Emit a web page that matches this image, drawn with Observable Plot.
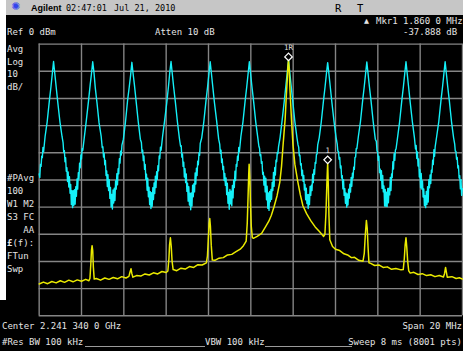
<!DOCTYPE html>
<html><head><meta charset="utf-8">
<script src="https://cdn.jsdelivr.net/npm/d3@7"></script>
<script src="https://cdn.jsdelivr.net/npm/@observablehq/plot@0.6"></script>
<style>
html,body{margin:0;padding:0;background:#fff;}
#screen{position:relative;width:463px;height:351px;background:#000;overflow:hidden;font-family:'DejaVu Sans Mono',monospace;font-size:9px;color:#e4e4e4;}
.t{position:absolute;white-space:pre;line-height:12px;}
.h{color:#000;font-size:8.5px;}
#strip{position:absolute;left:0;top:0;width:6px;height:300px;background:#fff;}
#bar{position:absolute;left:6px;top:0;right:0;height:15px;background:#c6c6c6;}
#chart{position:absolute;left:0;top:0;}
.ul{position:absolute;height:1px;background:#9a9a9a;}
</style></head>
<body>
<div id="screen">
  <div id="strip"></div>
  <div id="bar"></div>
  <div id="chart"></div>
  <div class="t" style="left:11px;top:1px;color:#3344ee;font-family:'DejaVu Sans';font-size:11px">✺</div>
  <div class="t h" style="left:31px;top:2px;font-family:'Liberation Sans',Arial,sans-serif;font-weight:bold;font-size:9px">Agilent</div>
  <div class="t h" style="left:66px;top:2px">02:47:01</div>
  <div class="t h" style="left:114px;top:2px">Jul 21, 2010</div>
  <div class="t h" style="left:335px;top:2px;font-size:10.5px">R</div>
  <div class="t h" style="left:357px;top:2px;font-size:10.5px">T</div>

  <div class="t" style="left:364px;top:15px;font-family:'DejaVu Sans';font-size:6.5px">▲</div>
  <div class="t" style="left:376px;top:15px">Mkr1</div>
  <div class="t" style="left:403px;top:15px">1.860 0 MHz</div>

  <div class="t" style="left:7px;top:26px">Ref 0 dBm</div>
  <div class="t" style="left:155px;top:26px">Atten 10 dB</div>
  <div class="t" style="left:403px;top:26px">-37.888 dB</div>

  <div class="t" style="left:7px;top:43px">Avg</div>
  <div class="t" style="left:7px;top:55.5px">Log</div>
  <div class="t" style="left:7px;top:68px">10</div>
  <div class="t" style="left:7px;top:81px">dB/</div>

  <div class="t" style="left:7px;top:172px">#PAvg</div>
  <div class="t" style="left:7px;top:185px">100</div>
  <div class="t" style="left:7px;top:198px">W1 M2</div>
  <div class="t" style="left:7px;top:211px">S3 FC</div>
  <div class="t" style="left:7px;top:223.5px">   AA</div>
  <div class="t" style="left:7px;top:236.5px;font-weight:bold">£<span style="font-weight:normal">(f):</span></div>
  <div class="t" style="left:7px;top:249.5px">FTun</div>
  <div class="t" style="left:7px;top:262.5px">Swp</div>

  <div class="t" style="left:2px;top:320px">Center 2.241 340 0 GHz</div>
  <div class="t" style="right:1px;top:320px">Span 20 MHz</div>
  <div class="t" style="left:2px;top:335.5px">#Res BW 100 kHz</div>
  <div class="t" style="left:205px;top:335.5px">VBW 100 kHz</div>
  <div class="t" style="right:1px;top:335.5px">Sweep 8 ms (8001 pts)</div>
  <div class="ul" style="left:85px;top:346px;width:120px"></div>
  <div class="ul" style="left:265px;top:346px;width:87px"></div>
</div>
<script>
// Frequency offset from centre (MHz), 10 divisions of 2 MHz; level in dBm, 10 dB/div from Ref 0 dBm
const xTicks = [-10, -8, -6, -4, -2, 0, 2, 4, 6, 8, 10];
const yTicks = [0, -10, -20, -30, -40, -50, -60, -70, -80, -90, -100];

// ---- Cyan trace (averaged comb) ----
const combPeakFreqs = [-9.32, -7.47, -5.62, -3.77, -1.92, -0.07, 1.78, 3.63, 5.48, 7.33, 9.18];
// offsets (MHz) around each comb peak, and the levels read at them
const lobeOffsets = [-0.4, -0.3, -0.2, -0.12, -0.06, 0, 0.06, 0.12, 0.2, 0.3, 0.4];
const lobeLevels = [
  [-34, -28.5, -21, -15.5, -11, -6.4, -11, -15.5, -21.5, -28.5, -34],
  [-34.5, -28, -21, -15, -11, -6.5, -10.5, -16, -21.5, -29, -34],
  [-35, -28.5, -20.5, -15.5, -11.5, -6.7, -11, -15, -21, -28.5, -35],
  [-34, -28, -21.5, -15.5, -10.5, -6.4, -11, -15.5, -21, -28.5, -35],
  [-34.5, -28.5, -21, -15.5, -11, -6.5, -11, -15.5, -21.5, -28, -35],
  [-34, -28.5, -21, -15.5, -11, -6.5, -11, -15.5, -21, -28.5, -34.5],
  [-34.5, -28, -21, -15, -10.5, -5.8, -10.5, -15, -21, -28.5, -34.5],
  [-34.5, -28.5, -21, -15.5, -11, -6.8, -11, -15.5, -21.5, -28.5, -34.5],
  [-34, -28.5, -21, -15.5, -11, -6.6, -11, -15.5, -21, -28.5, -35],
  [-34.5, -28.5, -21, -15.5, -11, -6.5, -11, -15.5, -21.5, -28.5, -34.5],
  [-34, -28.5, -21, -15.5, -11, -6.5, -11, -15.5, -21, -28.5, -34.5]
];
// noisy skirts/trough after each peak: offsets from that peak and levels
const skirtOffsets = [0.45,0.48,0.51,0.54,0.57,0.60,0.63,0.66,0.69,0.72,0.75,0.78,0.81,0.84,0.87,0.90,0.93,0.96,0.99,1.02,1.05,1.08,1.11,1.14,1.17,1.20,1.23,1.26,1.29,1.32,1.35,1.38];
const skirtLevels = [
  [-36.3,-39.8,-39.2,-43.3,-41.8,-46.8,-45.5,-50.6,-47.1,-52.6,-48.8,-54.9,-51.7,-59.1,-54.0,-60.2,-54.0,-59.3,-53.6,-58.9,-52.5,-56.0,-49.6,-53.4,-47.3,-49.6,-43.8,-45.5,-40.8,-42.3,-38.5,-39.1],
  [-38.1,-37.8,-41.6,-40.2,-44.4,-42.8,-48.4,-46.7,-52.4,-48.1,-53.9,-49.9,-56.8,-52.8,-59.9,-55.3,-60.7,-53.7,-58.5,-53.0,-57.6,-50.4,-53.4,-47.7,-51.8,-45.9,-47.7,-42.2,-43.8,-39.4,-40.8,-37.2],
  [-36.2,-39.9,-39.0,-42.9,-41.2,-46.1,-44.3,-49.8,-47.9,-53.8,-49.4,-56.2,-52.7,-59.1,-54.3,-60.5,-54.7,-59.7,-52.9,-57.2,-51.1,-55.0,-48.6,-52.8,-47.0,-49.8,-44.8,-46.6,-41.2,-42.1,-37.9,-39.0],
  [-37.6,-37.4,-41.6,-40.4,-45.0,-43.5,-48.9,-45.9,-51.0,-47.8,-54.2,-51.2,-57.8,-52.5,-59.2,-54.9,-61.0,-54.8,-59.6,-51.9,-56.2,-51.4,-54.4,-47.4,-51.5,-45.7,-48.4,-43.1,-44.4,-40.1,-40.9,-36.6],
  [-36.8,-40.2,-39.0,-43.6,-42.3,-46.2,-45.0,-50.2,-47.6,-52.0,-49.3,-55.4,-51.2,-58.6,-54.6,-60.8,-53.5,-58.8,-54.1,-59.5,-52.0,-56.6,-50.1,-52.8,-46.8,-50.2,-44.3,-45.0,-41.3,-42.8,-38.0,-39.6],
  [-37.6,-38.3,-41.1,-40.7,-43.9,-43.3,-47.9,-47.2,-51.9,-48.6,-54.4,-49.4,-57.3,-52.3,-60.4,-54.8,-61.2,-54.2,-58.0,-53.5,-57.1,-50.9,-53.9,-47.2,-52.3,-45.4,-48.2,-42.7,-43.3,-39.9,-40.3,-37.7],
  [-37.1,-37.9,-41.1,-40.9,-44.5,-44.0,-48.4,-46.4,-50.5,-48.3,-53.7,-51.7,-57.3,-53.0,-58.7,-55.4,-60.5,-55.3,-59.1,-52.4,-55.7,-51.9,-53.9,-47.9,-51.0,-46.2,-47.9,-43.6,-43.9,-40.6,-40.4,-37.1],
  [-36.7,-39.4,-39.5,-42.4,-41.7,-45.6,-44.8,-49.3,-48.4,-53.3,-49.9,-55.7,-53.2,-58.6,-54.8,-60.0,-55.2,-59.2,-53.4,-56.7,-51.6,-54.5,-49.1,-52.3,-47.5,-49.3,-45.3,-46.1,-41.7,-41.6,-38.4,-38.5],
  [-35.8,-39.3,-39.7,-42.8,-41.3,-47.3,-46.0,-50.1,-46.6,-53.1,-48.3,-54.4,-52.2,-59.6,-53.5,-59.7,-54.5,-59.8,-53.1,-58.4,-53.0,-55.5,-49.1,-53.9,-47.8,-49.1,-43.3,-46.0,-40.3,-42.8,-39.0,-38.6],
  [-38.6,-37.3,-42.1,-39.7,-44.9,-42.3,-48.9,-46.2,-52.9,-47.6,-53.4,-50.4,-56.3,-53.3,-59.4,-55.8,-60.2,-54.2,-59.0,-52.5,-58.1,-49.9,-52.9,-48.2,-51.3,-46.4,-47.2,-42.7,-44.3,-38.9,-41.3,-37.7],
  [-36.7,-39.4,-39.5,-42.4,-41.7,-45.6,-44.8,-49.3,-48.4,-53.3,-49.9,-55.7,-53.2]
];
// start of the sweep, before the first comb peak [MHz, dBm]
const cyanLeftEdge = [[-10.00,-47.8],[-9.97,-49.1],[-9.94,-44.3],[-9.91,-45.0],[-9.88,-41.3],[-9.85,-41.8],[-9.82,-38.0],[-9.79,-39.6]];

// ---- Yellow trace (carrier with spurs) [MHz offset, dBm] ----
const yellowTrace = [
[-10.00,-88.3],[-9.80,-87.6],[-9.60,-88.2],[-9.40,-87.4],[-9.20,-87.9],[-9.00,-87.1],[-8.80,-87.7],[-8.60,-86.9],[-8.40,-87.5],[-8.20,-86.8],[-8.00,-87.3],[-7.80,-86.6],[-7.65,-87.1],
[-7.60,-86.2],[-7.56,-81],[-7.53,-76],[-7.50,-74.2],[-7.47,-76],[-7.44,-82],[-7.40,-86.5],
[-7.30,-86.3],[-7.10,-86.9],[-6.90,-86.1],[-6.70,-86.6],[-6.50,-85.9],[-6.30,-86.4],[-6.10,-85.6],[-5.90,-86.1],[-5.76,-85.5],
[-5.71,-84],[-5.66,-82.7],[-5.62,-84.5],[-5.57,-85.8],
[-5.40,-85.2],[-5.20,-85.4],[-5.00,-84.6],[-4.80,-85.0],[-4.60,-84.2],[-4.40,-84.6],[-4.20,-83.7],[-4.00,-84.1],[-3.92,-83.5],
[-3.87,-79],[-3.84,-74],[-3.80,-71.3],[-3.76,-74.5],[-3.72,-80],[-3.67,-83],
[-3.50,-83.4],[-3.30,-82.5],[-3.10,-82.8],[-2.90,-81.9],[-2.70,-82.2],[-2.50,-81.2],[-2.30,-81.3],[-2.10,-80.5],
[-2.05,-78],[-2.01,-72],[-1.97,-66],[-1.94,-64.2],[-1.91,-67],[-1.87,-74],[-1.82,-79.5],
[-1.70,-79.6],[-1.50,-78.8],[-1.30,-78.6],[-1.10,-77.6],[-0.90,-77.4],[-0.70,-76.4],[-0.50,-75.5],[-0.35,-74.2],[-0.22,-72.5],
[-0.17,-66],[-0.13,-56],[-0.10,-48],[-0.08,-44.2],[-0.05,-49],[-0.02,-58],[0.02,-67],[0.07,-71.2],
[0.12,-71.5],[0.30,-70.8],[0.51,-69.7],[0.70,-67.2],[0.85,-65.2],[0.97,-63],[1.10,-59.8],[1.24,-55.8],[1.37,-50.8],[1.45,-45],[1.52,-37.5],[1.57,-32.5],[1.62,-27.7],[1.67,-20],[1.72,-13.1],[1.75,-8.5],[1.78,-5.8],[1.81,-9],[1.85,-16.8],[1.92,-27.7],[1.99,-36.9],[2.08,-44.2],[2.22,-50.7],[2.34,-55.5],[2.46,-59.5],[2.64,-62.5],[2.83,-65],[3.04,-67.3],[3.24,-69],[3.44,-70.8],
[3.50,-70],[3.55,-62],[3.59,-52],[3.63,-43.7],[3.66,-52],[3.69,-63],[3.73,-72],
[3.86,-74.5],[4.00,-75.5],[4.20,-76.0],[4.40,-77.2],[4.57,-77.6],[4.75,-78.6],[4.90,-78.5],[5.10,-79.6],[5.30,-79.9],
[5.36,-77],[5.41,-70],[5.46,-64.9],[5.50,-68],[5.54,-75],[5.58,-80.5],
[5.66,-80.7],[5.85,-81.5],[6.05,-81.3],[6.25,-82.2],[6.45,-82.0],[6.65,-82.9],[6.85,-82.6],[7.10,-83.1],
[7.20,-83],[7.25,-79],[7.29,-74],[7.33,-71.3],[7.37,-75],[7.41,-80],[7.46,-83.5],
[7.53,-84.3],[7.70,-84.0],[7.90,-84.8],[8.10,-84.5],[8.30,-85.2],[8.50,-84.9],[8.70,-85.6],[8.90,-85.2],[9.10,-85.7],
[9.15,-84.5],[9.20,-82.2],[9.24,-84],[9.28,-85.8],
[9.50,-85.6],[9.70,-86.3],[9.85,-86.0],[10.00,-86.5]
];

const markerLabels = ["1R", "1"];
const markerFreqs = [1.78, 3.63];
const markerLevels = [-5.8, -43.7];

// assemble the cyan sweep from the read values
const cyanTrace = [...cyanLeftEdge];
combPeakFreqs.forEach((p, i) => {
  lobeOffsets.forEach((o, j) => cyanTrace.push([p + o, lobeLevels[i][j]]));
  skirtLevels[i].forEach((v, j) => cyanTrace.push([p + skirtOffsets[j], v]));
});
const markers = markerLabels.map((label, i) => ({label, f: markerFreqs[i], level: markerLevels[i]}));

const gridColor = "#858585";
const chart = Plot.plot({
  width: 467, height: 351,
  marginLeft: 39, marginRight: 1, marginTop: 44, marginBottom: 33,
  x: {domain: [-10, 10], axis: null},
  y: {domain: [-100, 0], axis: null},
  style: {background: "transparent"},
  marks: [
    Plot.gridX(xTicks, {stroke: gridColor, strokeOpacity: 1, strokeWidth: 1.4}),
    Plot.gridY(yTicks, {stroke: gridColor, strokeOpacity: 1, strokeWidth: 1.4}),
    Plot.line(cyanTrace, {x: d => d[0], y: d => d[1], stroke: "#14f0f8", strokeWidth: 1.4}),
    Plot.line(yellowTrace, {x: d => d[0], y: d => d[1], stroke: "#eaea00", strokeWidth: 1.5}),
    Plot.dot(markers, {x: "f", y: "level", symbol: "diamond2", r: 3.4, dy: -3, stroke: "#ffffff", fill: "#000", strokeWidth: 1.3}),
    Plot.text(markers, {x: "f", y: "level", text: "label", dy: -12, fill: "#dddddd", fontSize: 7.5, fontFamily: "DejaVu Sans Mono"})
  ]
});
document.getElementById("chart").appendChild(chart);
</script>
</body></html>
